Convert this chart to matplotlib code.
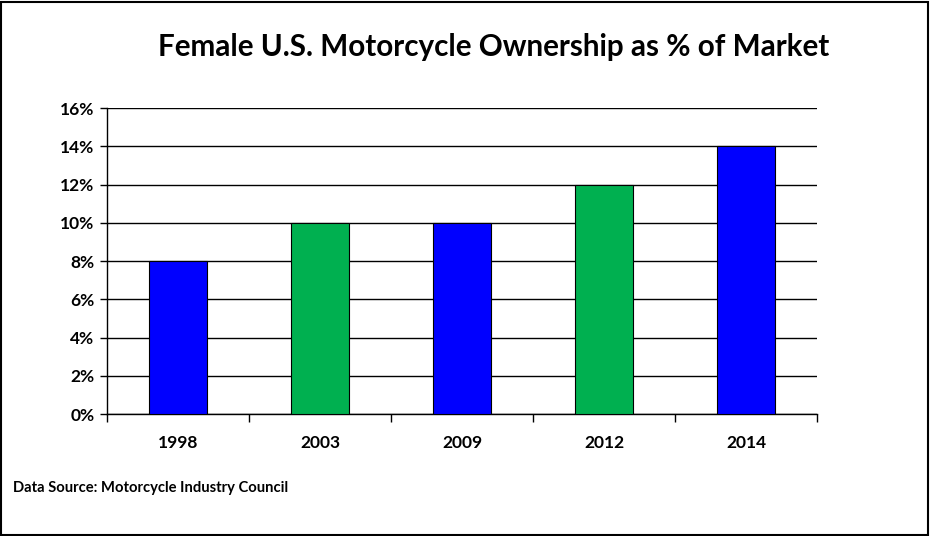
import matplotlib
matplotlib.use("Agg")
import matplotlib.pyplot as plt
import matplotlib.ticker
from matplotlib.patches import Rectangle

years = ["1998", "2003", "2009", "2012", "2014"]
share = [8, 10, 10, 12, 14]
bar_colors = ["#0000FF", "#00B050", "#0000FF", "#00B050", "#0000FF"]

plt.rcParams["font.family"] = ["Lato", "DejaVu Sans"]
plt.rcParams["font.weight"] = "bold"

fig = plt.figure(figsize=(9.31, 5.36), dpi=100)
ax = fig.add_axes([0.1149, 0.2276, 0.8776 - 0.1149, 0.7985 - 0.2276])

x = list(range(len(years)))
ax.bar(x, share, width=0.41, color=bar_colors, edgecolor="black", linewidth=0.8, zorder=3)

ax.set_xlim(-0.5, len(years) - 0.5)
ax.set_ylim(0, 16)
ax.yaxis.set_major_locator(matplotlib.ticker.MultipleLocator(2))
ax.yaxis.set_major_formatter(matplotlib.ticker.FuncFormatter(lambda v, p: f"{int(v)}%"))
ax.grid(axis="y", color="black", linewidth=1, zorder=0)

# category labels centred, tick marks between categories
ax.set_xticks(x)
ax.set_xticklabels(years)
ax.tick_params(axis="x", which="major", length=0, pad=15, labelsize=12.5)
ax.set_xticks([i - 0.5 for i in range(len(years) + 1)], minor=True)
ax.tick_params(axis="x", which="minor", length=6, width=1, color="black", direction="out")
ax.tick_params(axis="y", length=5, width=1, direction="out", pad=4, labelsize=12.5)

for side in ["top", "right"]:
    ax.spines[side].set_visible(False)
ax.spines["left"].set_linewidth(1)
ax.spines["bottom"].set_linewidth(1)

fig.text(0.53, 0.912, "Female U.S. Motorcycle Ownership as % of Market",
         ha="center", va="center", fontsize=21.3, fontweight="bold")
fig.text(0.014, 0.09, "Data Source: Motorcycle Industry Council",
         ha="left", va="center", fontsize=10.6, fontweight="bold")

fig.patches.append(Rectangle((0.001, 0.002), 0.996, 0.995, transform=fig.transFigure,
                             fill=False, edgecolor="black", linewidth=1.5))

fig.savefig("out.png", dpi=100)
